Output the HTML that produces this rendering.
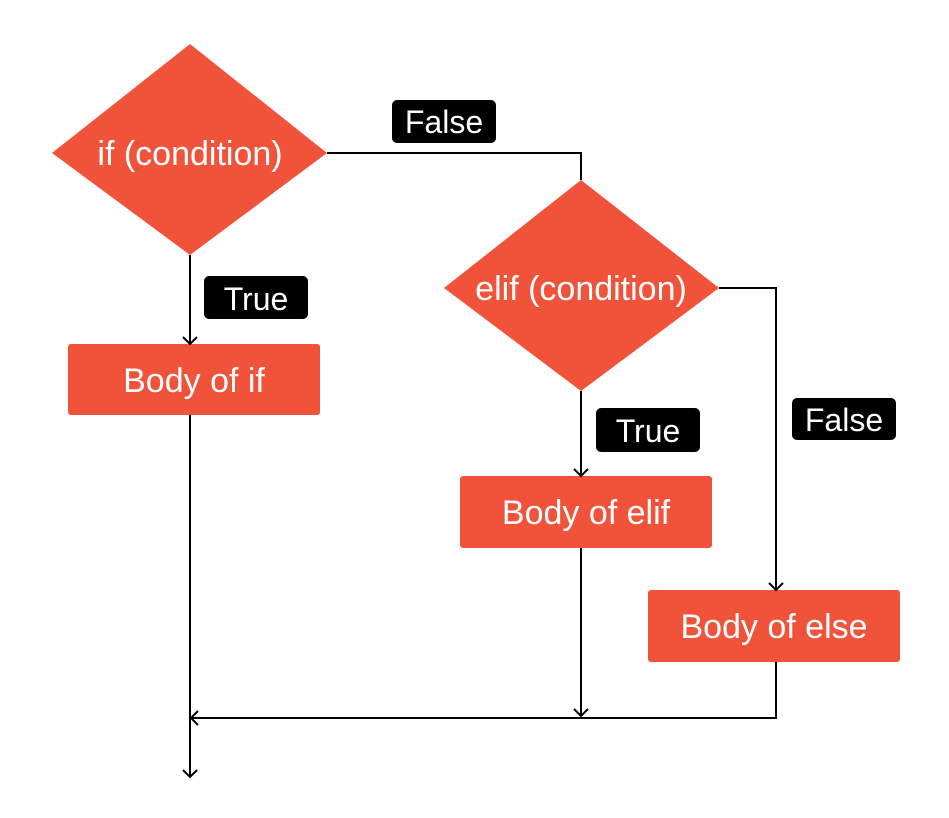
<!DOCTYPE html>
<html><head><style>
html,body{margin:0;padding:0;background:#fff;}
svg{display:block;}
text{font-family:"Liberation Sans",sans-serif;}
</style></head><body>
<svg width="949" height="818" viewBox="0 0 949 818" xmlns="http://www.w3.org/2000/svg">
<g fill="#F0523A">
<polygon points="190,44 327,153 190,255 52,153"/>
<polygon points="581,180 719,288 581,391 444,288"/>
<rect x="68" y="344" width="252" height="71" rx="3"/>
<rect x="460" y="476" width="252" height="72" rx="3"/>
<rect x="648" y="590" width="252" height="72" rx="3"/>
</g>
<g stroke="#000" stroke-width="2" fill="none">
<line x1="190" y1="255" x2="190" y2="344"/>
<line x1="190" y1="415" x2="190" y2="777"/>
<polyline points="327,153 581,153 581,180"/>
<polyline points="719,288 776,288 776,590"/>
<line x1="581" y1="391" x2="581" y2="476"/>
<line x1="581" y1="548" x2="581" y2="716"/>
<polyline points="776,662 776,718 190,718"/>
<polyline points="183,337 190,344 197,337"/>
<polyline points="574,469 581,476 588,469"/>
<polyline points="769,583 776,590 783,583"/>
<polyline points="574,709 581,716 588,709"/>
<polyline points="183,770 190,777 197,770"/>
<polyline points="198,711 191,718 198,725"/>
</g>
<g fill="#000">
<rect x="392" y="100" width="104" height="43" rx="5"/>
<rect x="204" y="276" width="104" height="43" rx="5"/>
<rect x="596" y="408" width="104" height="44" rx="5"/>
<rect x="792" y="398" width="104" height="42" rx="5"/>
</g>
<g fill="#fff" font-size="32" text-anchor="middle">
<text x="444" y="133">False</text>
<text x="256" y="310">True</text>
<text x="648" y="442">True</text>
<text x="844" y="431">False</text>
</g>
<g fill="#fff" font-size="34" text-anchor="middle">
<text x="190" y="165">if (condition)</text>
<text x="581" y="300">elif (condition)</text>
<text x="194" y="392">Body of if</text>
<text x="586" y="524">Body of elif</text>
<text x="774" y="638">Body of else</text>
</g>
</svg>
</body></html>
